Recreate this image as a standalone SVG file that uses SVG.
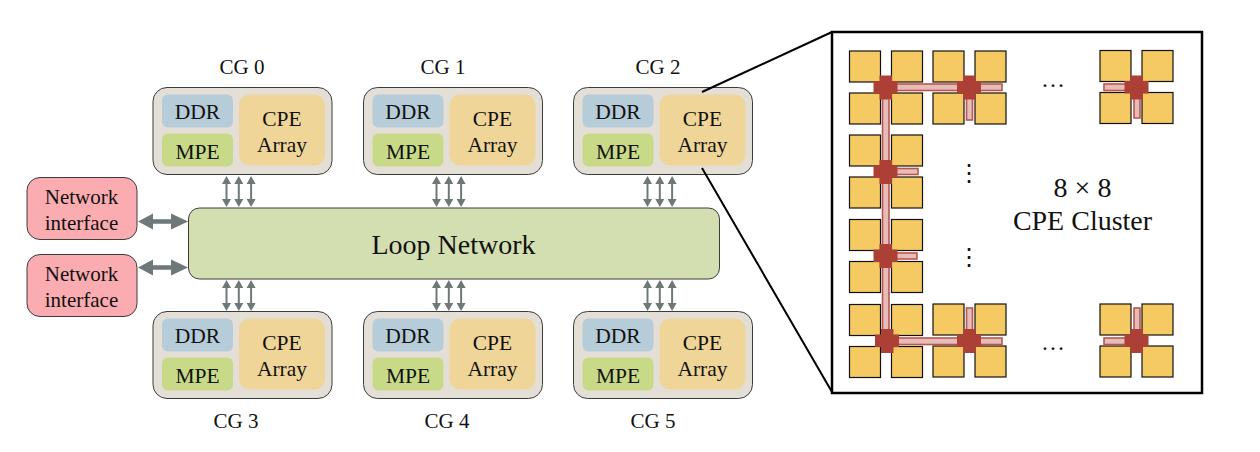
<svg xmlns="http://www.w3.org/2000/svg" width="1260" height="452" viewBox="0 0 1260 452">
<style>
text{font-family:"Liberation Serif","Times New Roman",serif;fill:#111;text-anchor:middle}
.cg{fill:#e3dfd6;stroke:#3c3c3c;stroke-width:1}
.ddr{fill:#b7ccd9}.mpe{fill:#c8da87}.cpe{fill:#efd698}
.t{font-size:21.5px}.l{font-size:21px}
.ni{fill:#fbacb0;stroke:#3c3c3c;stroke-width:1}
.thin{stroke:#6f7878;stroke-width:2;fill:none}
.thick{stroke:#6f7878;stroke-width:4.500;fill:none}
.ah{fill:#6f7878}
.sq{fill:#f6ca63;stroke:#111;stroke-width:1.2}
.link{fill:#e6bcb8;stroke:#bb5550;stroke-width:1.6}
.r{fill:#ad4036}
.ln{stroke:#000;stroke-width:2;fill:none}
</style>
<defs>
<g id="cgbody">
<rect class="cg" x="0" y="0" width="179" height="87" rx="14"/>
<rect class="ddr" x="9" y="7" width="71" height="33" rx="6"/>
<rect class="mpe" x="9" y="46" width="71" height="33" rx="6"/>
<rect class="cpe" x="86" y="7" width="86" height="71" rx="11"/>
<text class="t" x="44.500" y="31">DDR</text>
<text class="t" x="44.500" y="71">MPE</text>
<text class="t" x="129" y="38">CPE</text>
<text class="t" x="129" y="64">Array</text>
</g>
<g id="tri">
<path class="thin" d="M0 5V26"/><path class="ah" d="M0 0L4.500 8H-4.500ZM0 31L4.500 23H-4.500Z"/>
<path class="thin" d="M12.300 5V26"/><path class="ah" d="M12.300 0L16.800 8H7.800ZM12.300 31L16.800 23H7.800Z"/>
<path class="thin" d="M24.600 5V26"/><path class="ah" d="M24.600 0L29.100 8H20.100ZM24.600 31L29.100 23H20.100Z"/>
</g>
<g id="tile">
<rect class="sq" x="0" y="0" width="31" height="31"/>
<rect class="sq" x="42" y="0" width="31" height="31"/>
<rect class="sq" x="0" y="42" width="31" height="31"/>
<rect class="sq" x="42" y="42" width="31" height="31"/>
</g>
<path id="router" class="r" d="M-6-12H6.500V-6.500H12V6H6.500V12H-6V6H-12V-6.500H-6Z"/>
</defs>

<g id="cg0"><use href="#cgbody" x="153" y="87.500"/><text class="l" x="242" y="74">CG 0</text></g>
<g id="cg1"><use href="#cgbody" x="363.500" y="87.500"/><text class="l" x="443" y="74">CG 1</text></g>
<g id="cg2"><use href="#cgbody" x="573.500" y="87.500"/><text class="l" x="658" y="74">CG 2</text></g>
<g id="cg3"><use href="#cgbody" x="153" y="311.500"/><text class="l" x="236" y="428">CG 3</text></g>
<g id="cg4"><use href="#cgbody" x="363.500" y="311.500"/><text class="l" x="447" y="428">CG 4</text></g>
<g id="cg5"><use href="#cgbody" x="573.500" y="311.500"/><text class="l" x="653" y="428">CG 5</text></g>

<g id="ni0"><rect class="ni" x="27" y="177.500" width="110" height="62" rx="13"/><text class="l" x="81.500" y="204">Network</text><text class="l" x="81.500" y="230">interface</text></g>
<g id="ni1"><rect class="ni" x="27" y="254.500" width="110" height="62" rx="13"/><text class="l" x="81.500" y="281">Network</text><text class="l" x="81.500" y="307">interface</text></g>

<g id="loop"><rect x="188.500" y="208" width="531" height="71" rx="11" fill="#d3dfb0" stroke="#3c3c3c"/><text x="453.500" y="254" font-size="28">Loop Network</text></g>

<g id="cluster">
<rect x="832" y="32" width="370" height="361" fill="#fff" stroke="#000" stroke-width="2.500"/>
<use href="#tile" x="849.500" y="51"/><use href="#tile" x="933" y="51"/><use href="#tile" x="1100" y="50.500"/>
<use href="#tile" x="849.500" y="135"/><use href="#tile" x="849.500" y="219.500"/>
<use href="#tile" x="849.500" y="304.500"/><use href="#tile" x="933" y="304"/><use href="#tile" x="1100" y="304"/>

<rect class="link" x="882.500" y="90" width="6.500" height="260"/>
<rect class="link" x="892" y="84" width="70" height="6.500"/>
<rect class="link" x="975" y="84" width="27" height="6.500"/>
<rect class="link" x="966.500" y="95" width="6" height="25"/>
<rect class="link" x="1104" y="84" width="24" height="6.500"/>
<rect class="link" x="1134" y="95" width="6" height="23"/>
<rect class="link" x="893" y="168.500" width="25" height="6"/>
<rect class="link" x="893" y="253" width="24" height="6"/>
<rect class="link" x="892" y="338" width="70" height="6.500"/>
<rect class="link" x="975" y="338" width="27" height="6.500"/>
<rect class="link" x="966.500" y="308" width="6" height="25"/>
<rect class="link" x="1104" y="338" width="24" height="6.500"/>
<rect class="link" x="1134" y="308" width="6" height="25"/>

<use href="#router" x="885.500" y="87.500"/><use href="#router" x="969" y="87.500"/><use href="#router" x="1136.500" y="87.500"/>
<use href="#router" x="885.500" y="172"/><use href="#router" x="885.500" y="256"/>
<use href="#router" x="887" y="341"/><use href="#router" x="969" y="341"/><use href="#router" x="1136.500" y="341"/>

<text x="1053" y="87" font-size="24">…</text>
<text x="1053" y="350" font-size="24">…</text>
<text x="969" y="181" font-size="24">⋮</text>
<text x="969" y="265" font-size="24">⋮</text>
<text x="1082.500" y="197" font-size="28">8 × 8</text>
<text x="1082.500" y="230" font-size="28">CPE Cluster</text>
</g>

<g id="connectors">
<use href="#tri" x="226.500" y="176"/><use href="#tri" x="436.500" y="176"/><use href="#tri" x="647.500" y="176"/>
<use href="#tri" x="226.500" y="280"/><use href="#tri" x="436.500" y="280"/><use href="#tri" x="647.500" y="280"/>
<path class="thick" d="M150 221.500H176M150 267.500H176"/>
<path class="ah" d="M138 221.500L153 213.500V229.500ZM188 221.500L171 213.500V229.500ZM138 267.500L153 259.500V275.500ZM188 267.500L171 259.500V275.500Z"/>
<path class="ln" d="M702 92L832 32M702 168L832 392"/>
</g>
</svg>
